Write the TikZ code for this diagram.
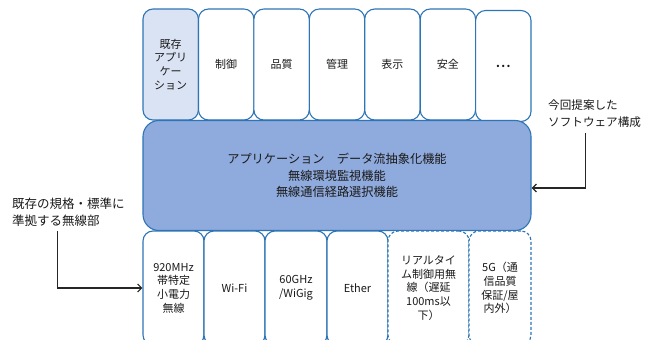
\documentclass[tikz,border=0pt]{standalone}
\usepackage{fontspec}
\setmainfont{Noto Sans CJK JP}
\usetikzlibrary{arrows.meta}
\definecolor{boxline}{HTML}{2E75B6}
\definecolor{midfill}{HTML}{8FAADC}
\definecolor{appfill}{HTML}{DAE3F3}
\definecolor{txt}{HTML}{1A1A1A}
\begin{document}
\begin{tikzpicture}[
            x=1pt, y=-1pt,
            app/.style={
                draw=boxline, line width=1.1pt, rounded corners=10pt,
                fill=white, minimum width=55.4pt, minimum height=111pt,
                inner sep=0pt, align=center, text=txt,
                font=\fontsize{11}{13.7}\selectfont,
            },
            radio/.style={
                app, minimum width=#1, minimum height=114pt,
            },
            radio/.default=61pt,
            newradio/.style={
                radio=#1, dash pattern=on 3pt off 2pt,
            },
            note/.style={
                anchor=west, align=left, inner sep=0pt, text=txt,
            },
            arr/.style={
                draw=black!85, line width=1.2pt,
                -{Straight Barb[length=4pt,width=8pt]},
            },
        ]
        \useasboundingbox (0, 0) rectangle (651, 340);
        \clip (0, 0) rectangle (651, 340);

        % applications
        \draw node[app, fill=appfill] (A1) at (170.7, 64.5) {既存\\アプリ\\ケー\\ション};
        \draw node[app] (A2) at (226.2, 64.5) {制御};
        \draw node[app] (A3) at (281.6, 64.5) {品質};
        \draw node[app] (A4) at (337.0, 64.5) {管理};
        \draw node[app] (A5) at (392.4, 64.5) {表示};
        \draw node[app] (A6) at (447.9, 64.5) {安全};
        \draw node[app] (A7) at (503.3, 66) {\textbf{.\kern1.5pt.\kern1.5pt.}};

        % software layer
        \draw node[app, fill=midfill, rounded corners=16pt,
            minimum width=388pt, minimum height=110pt,
            font=\fontsize{12.2}{16.3}\selectfont] (M) at (337, 175.5)
            {アプリケーション　データ流抽象化機能\\無線環境監視機能\\無線通信経路選択機能};

        % radio units
        \draw node[radio] (R1) at (173.5, 288) {920MHz\\帯特定\\小電力\\無線};
        \draw node[radio] (R2) at (234.5, 288) {Wi-Fi};
        \draw node[radio=62pt] (R3) at (296.0, 288) {60GHz\\/WiGig};
        \draw node[radio] (R4) at (357.5, 288) {Ether};
        \draw node[newradio=81pt] (R5) at (428.5, 288) {リアルタイ\\ム制御用無\\線（遅延\\100ms以\\下）};
        \draw node[newradio=62pt] (R6) at (500.0, 288) {5G（通\\信品質\\保証/屋\\内外）};

        % notes
        \draw node[note, font=\fontsize{12.5}{17.4}\selectfont] (NL) at (12, 212)
            {既存の規格・標準に\\準拠する無線部};
        \draw node[note, font=\fontsize{11.6}{16.7}\selectfont] (NR) at (548, 113.5)
            {今回提案した\\ソフトウェア構成};

        \coordinate (NLfoot) at (57.3, 231);
        \coordinate (NRfoot) at (585.7, 133);
        \coordinate (NRbend) at (585.7, 188);
        \draw[arr] (NLfoot) |- (R1.west);
        \draw[arr] (NRfoot) -- (NRbend) -- (NRbend -| M.east);
    \end{tikzpicture}
\end{document}
